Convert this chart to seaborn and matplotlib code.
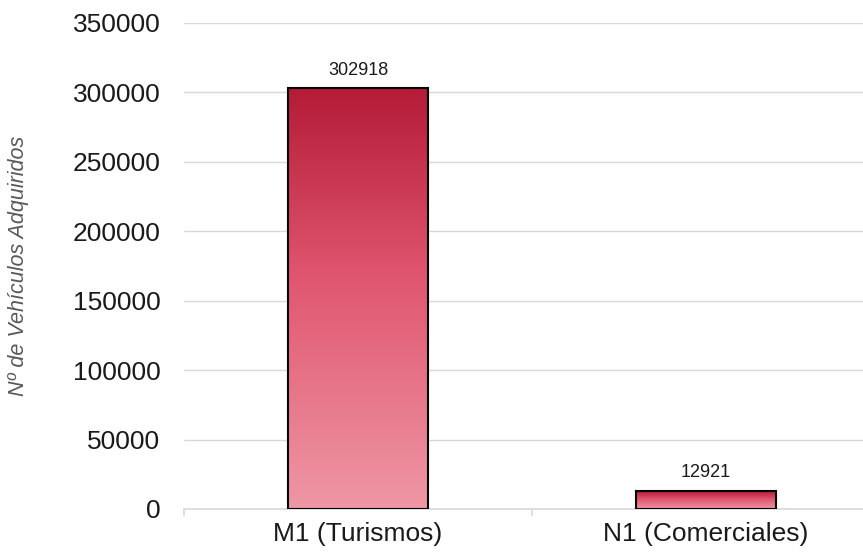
import numpy as np
import matplotlib
matplotlib.use("Agg")
import matplotlib.pyplot as plt
import seaborn as sns
from matplotlib.colors import LinearSegmentedColormap
from matplotlib.ticker import FixedLocator

categorias = ["M1 (Turismos)", "N1 (Comerciales)"]
vehiculos = [302918, 12921]
y_ticks = [0, 50000, 100000, 150000, 200000, 250000, 300000, 350000]
y_label = "Nº de Vehículos Adquiridos"

sns.set_theme(style="white")
plt.rcParams["font.family"] = ["Liberation Sans", "DejaVu Sans"]

fig = plt.figure(figsize=(8.63, 5.53), dpi=100)
ax = fig.add_axes([184 / 863, 1 - 509 / 553, 1 - 184 / 863, (509 - 23) / 553])

sns.barplot(x=categorias, y=vehiculos, ax=ax, width=0.4, color="#E05670",
            edgecolor="black", linewidth=1.5, zorder=3)

# degradado vertical (oscuro arriba, claro abajo) dentro de cada barra
cmap = LinearSegmentedColormap.from_list(
    "grad", [(0.0, "#EF97A5"), (0.55, "#E05670"), (1.0, "#B41B37")])
grad = np.linspace(1, 0, 256).reshape(-1, 1)
for p in ax.patches:
    x0, y0 = p.get_x(), p.get_y()
    w, h = p.get_width(), p.get_height()
    im = ax.imshow(grad, extent=[x0, x0 + w, y0, y0 + h], aspect="auto",
                   cmap=cmap, vmin=0, vmax=1, zorder=2.5)
    im.set_clip_path(p)
    p.set_facecolor("none")

ax.bar_label(ax.containers[0], labels=[str(v) for v in vehiculos],
             padding=7, fontsize=13, color="#1a1a1a")

ax.set_xlim(-0.5, -0.5 + (863 - 184) / 348)
ax.set_ylim(0, 350000)
ax.set_yticks(y_ticks)
ax.set_yticklabels([str(t) for t in y_ticks])
ax.yaxis.grid(True, color="#D9D9D9", linewidth=1)
ax.set_axisbelow(True)

for s in ["left", "right", "top"]:
    ax.spines[s].set_visible(False)
ax.spines["bottom"].set_color("#D9D9D9")
ax.spines["bottom"].set_linewidth(1.2)

ax.tick_params(axis="y", length=0, pad=17, labelsize=19, labelcolor="#1a1a1a")
ax.tick_params(axis="x", which="major", length=0, pad=9, labelsize=19, labelcolor="#1a1a1a")
ax.xaxis.set_minor_locator(FixedLocator([-0.5, 0.5, 1.5]))
ax.tick_params(axis="x", which="minor", length=5, width=1.2, color="#D9D9D9", bottom=True)

ax.set_xlabel("")
ax.set_ylabel(y_label, fontsize=15.5, style="italic", color="#595959")
ax.yaxis.set_label_coords(-155 / 679, 0.5)

fig.savefig("out.png", dpi=100)
